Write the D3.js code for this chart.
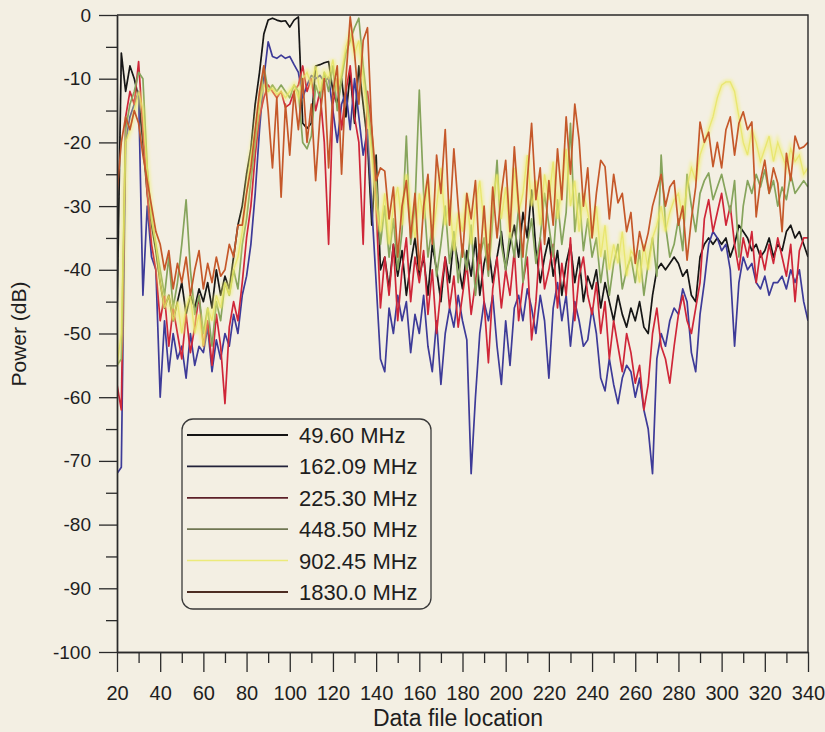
<!DOCTYPE html>
<html>
<head>
<meta charset="utf-8">
<script src="https://cdn.jsdelivr.net/npm/d3@7/dist/d3.min.js"></script>
<style>
  html, body { margin: 0; padding: 0; background: #f3efe3; }
  svg { display: block; font-family: Arial, "Liberation Sans", Helvetica, sans-serif; }
</style>
</head>
<body>
<svg id="chart" width="825" height="732"></svg>
<script>
//data file locations, one reading every 2
var xLocations = d3.range(20, 341, 2);

var xTicks = [20, 40, 60, 80, 100, 120, 140, 160, 180, 200, 220, 240, 260, 280, 300, 320, 340];
var yTicks = [0, -10, -20, -30, -40, -50, -60, -70, -80, -90, -100];

var seriesNames = ['49.60 MHz', '162.09 MHz', '225.30 MHz', '448.50 MHz', '902.45 MHz', '1830.0 MHz'];

//49.60 MHz
var power49 = [
  -48, -6, -12, -8, -10, -13, -20, -28, -33, -37,
  -42, -46, -44, -48, -45, -42, -47, -44, -46, -43,
  -45, -42, -46, -40, -44, -41, -43, -38, -33, -30,
  -25, -21, -14, -9, -3, -0.8, -0.5, -0.8, -1, -0.9,
  -1.9, -0.8, -0.3, -17, -17.8, -17, -8, -7.8, -7.5, -7.3,
  -12, -14, -10, -16, -9, -17, -8, -14, -20, -33,
  -22, -40, -38, -43, -36, -41, -37, -44, -39, -35,
  -41, -38, -44, -36, -40, -45, -38, -42, -35, -39,
  -43, -37, -41, -35, -44, -39, -36, -42, -38, -34,
  -40, -36, -33, -38, -31, -35, -27.5, -37, -42, -38,
  -35, -41, -37, -44, -39, -36, -42, -38, -45, -41,
  -43, -40, -46, -42, -45, -48, -44, -47, -49, -46,
  -48, -45, -49, -50, -44, -40, -39, -40, -39, -38,
  -39, -41, -40, -44, -45, -38, -36, -35, -36, -35,
  -36, -35, -38, -36, -33, -34, -35, -37, -36, -38,
  -37, -35, -38, -36, -37, -34, -33, -35, -34, -36,
  -38
];

//162.09 MHz
var power162 = [
  -72, -71, -20, -16, -14, -12, -44, -30, -38, -40,
  -60, -48, -56, -50, -54, -52, -57, -50, -55, -52,
  -53, -49, -56, -51, -54, -50, -52, -47, -50, -44,
  -41, -36, -28, -18, -10, -4.2, -6.5, -6.8, -6.3, -6.8,
  -6.5, -7.8, -9, -13, -11, -9.5, -10, -9.5, -10.5, -9.8,
  -15, -20, -14, -12, -18, -10, -16, -22, -18, -30,
  -42, -54, -56, -46, -50, -44, -48, -45, -53, -47,
  -50, -44, -52, -56, -48, -58, -50, -46, -49, -44,
  -48, -51, -72, -60, -50, -45, -48, -44, -52, -58,
  -48, -55, -46, -44, -48, -43, -46, -50, -44, -48,
  -57, -46, -42, -48, -44, -52, -45, -48, -52, -51,
  -46, -50, -57, -59, -54, -58, -61, -57, -55, -56,
  -60, -57, -62, -65, -72, -54, -50, -52, -48, -46,
  -47, -43, -45, -53, -56, -47, -42, -36, -34, -35,
  -37, -36, -40, -52, -42, -38, -40, -39, -42, -43,
  -41, -44, -42, -42, -41, -43, -40, -42, -40, -45,
  -48
];

//225.30 MHz
var power225 = [
  -58, -62, -16, -12, -14, -7.3, -18, -28, -36, -40,
  -48, -44, -52, -46, -50, -54, -47, -53, -49, -44,
  -52, -48, -55, -47, -52, -61, -49, -45, -48, -42,
  -35, -30, -22, -16, -13, -11, -12, -13, -12, -14.5,
  -14, -12, -11, -8, -12, -10, -15, -12, -20, -36,
  -14, -10, -18, -12, -8, -16, -20, -36, -12, -18,
  -30, -46, -38, -44, -36, -48, -40, -35, -45, -38,
  -42, -37, -47, -40, -50, -43, -38, -46, -41, -49,
  -44, -39, -47, -42, -36, -45, -54.6, -43, -38, -46,
  -40, -44, -37, -48, -42, -38, -51, -45, -35, -43,
  -40, -36, -46, -39, -44, -35, -48, -41, -38, -44,
  -47, -42, -50, -45, -54, -48, -52, -56, -50, -53,
  -57.8, -55, -62, -58, -50, -46, -52, -54, -57.8, -52,
  -47, -44, -48, -50, -46, -42, -32, -29, -34, -31,
  -28, -33, -30, -36, -40, -35, -38, -34, -42, -37,
  -40, -36, -39, -35, -38, -41, -36, -45, -37, -35,
  -35
];

//448.50 MHz
var power448 = [
  -55, -54, -18, -14, -12, -9, -10, -24, -32, -36,
  -40, -44, -38, -46, -42, -36, -29, -40, -47, -44,
  -50, -46, -52, -45, -48, -42, -44, -40, -43, -36,
  -32, -26, -20, -14, -8, -12, -11, -12, -11, -12,
  -13, -11, -12, -20, -21, -19, -11, -13, -9, -12,
  -8, -15, -10, -6, -4, -2, -0.5, -8, -14, -20,
  -26, -36, -30, -38, -32, -40, -34, -19, -36, -30,
  -11.8, -28, -38, -33, -41, -36, -30, -39, -34, -42,
  -36, -40, -33, -44, -38, -35, -41, -32, -22.8, -36,
  -40, -34, -38, -30, -42, -36, -32, -39, -35, -28,
  -33, -38, -29, -36, -31, -17, -34, -28, -37, -32,
  -38, -35, -42, -37, -44, -39, -36, -43, -40, -38,
  -42, -37, -44, -39, -35, -41, -22, -33, -38, -36,
  -32, -37, -25, -30, -34, -28, -26, -24.8, -29, -27,
  -25, -28, -31, -26, -38, -30, -26, -28, -25, -27,
  -24.3, -28, -26, -30, -27, -29, -25, -28, -27, -26,
  -27
];

//902.45 MHz
var power902 = [
  -55, -50, -20, -18, -15, -12, -15, -24, -32, -36,
  -42, -46, -44, -48, -45, -50, -46, -44, -50, -47,
  -52, -46, -48, -44, -46, -42, -44, -40, -38, -34,
  -28, -22, -18, -14, -11, -12, -11.5, -12.5, -12, -13,
  -12, -11, -13, -10, -9, -11, -8, -12, -9, -10,
  -7, -12, -9, -5, -3, -6, -4, -10, -16, -22,
  -30, -34, -28, -36, -30, -27, -33, -25, -31, -35,
  -28, -32, -26, -35, -30, -24, -33, -29, -37, -31,
  -34, -28, -36, -30, -26, -33, -38, -29, -25, -32,
  -27, -35, -24, -31, -28, -22, -30, -26, -33, -25,
  -29, -23, -32, -27, -21, -30, -26, -34, -28, -31,
  -35, -30, -38, -33, -40, -36, -39, -34, -41, -37,
  -38, -42, -36, -40, -35, -33, -30, -34, -31, -29,
  -28, -32, -27, -24, -26, -22, -20, -18, -16, -13,
  -11, -10.5, -10.5, -12, -16, -20, -22, -18, -20, -23,
  -21, -19, -23, -20, -22, -24, -21, -23, -22, -25,
  -24
];

//1830.0 MHz
var power1830 = [
  -28, -20, -16, -18, -15, -17, -22, -26, -30, -34,
  -36, -40, -37, -43, -39, -42, -38, -44, -40, -37,
  -43, -39, -42, -38, -41, -40, -36, -38, -33, -33,
  -28, -24, -18, -12, -8, -15, -24, -13, -28.6, -14,
  -22, -12, -18, -10, -20, -14, -26, -16, -10, -24,
  -12, -8, -25, -10, -0.3, -6, -14, -4, -2, -18,
  -26, -24, -24.5, -32, -27, -38, -30, -26, -35, -28,
  -40, -30, -25, -36, -22, -28, -18, -33, -21, -30,
  -38, -28, -32, -26, -39, -30, -40, -27, -35, -28,
  -22.8, -34, -20.7, -30, -38, -26, -17, -29, -24, -36,
  -26, -33, -21, -29, -16, -25, -14, -19.6, -30, -24,
  -35, -28, -22.8, -23.8, -32, -25, -29.5, -28, -34, -31,
  -39, -34, -37, -34.2, -30, -27.5, -25, -30, -27, -26,
  -33, -30, -38.5, -32, -27, -16.8, -20, -18.4, -23.8, -20,
  -24, -18, -16, -22, -17, -15.2, -18, -16.8, -31.7, -26,
  -22.8, -28, -24, -26.4, -34, -21.7, -26, -19, -21, -20.7,
  -20
];

var lineColors = ['#141414', '#3d3a98', '#cf2638', '#86a45c', '#ecea6a', '#c5582a'];
var keyColors = ['#141414', '#22223a', '#5c2028', '#6f7652', '#ecea7a', '#4c2c22'];

var series = [power49, power162, power225, power448, power902, power1830].map(function (vals, i) {
    return {
        name: seriesNames[i],
        color: lineColors[i],
        key: keyColors[i],
        glow: i === 4,
        points: vals.map(function (v, j) { return [xLocations[j], v]; })
    };
});

var svg = d3.select('#chart');
var M = {left: 117, right: 808, top: 15, bottom: 652};

var x = d3.scaleLinear().domain([20, 340]).range([M.left, M.right]);
var y = d3.scaleLinear().domain([-100, 0]).range([M.bottom, M.top]);

svg.append('rect').attr('width', 825).attr('height', 732).attr('fill', '#f3efe3');

var defs = svg.append('defs');
defs.append('filter').attr('id', 'glow').attr('x', '-5%').attr('y', '-5%').attr('width', '110%').attr('height', '110%')
    .append('feGaussianBlur').attr('stdDeviation', 1.4);
defs.append('filter').attr('id', 'soft')
    .append('feGaussianBlur').attr('stdDeviation', 0.35);
defs.append('clipPath').attr('id', 'plot-clip')
    .append('rect').attr('x', M.left).attr('y', M.top - 2)
    .attr('width', M.right - M.left).attr('height', M.bottom - M.top + 2);

//lines
var line = d3.line().x(function (d) { return x(d[0]); }).y(function (d) { return y(d[1]); });
var gLines = svg.append('g').attr('clip-path', 'url(#plot-clip)');

series.forEach(function (s) {
    if (s.glow) {
        gLines.append('path').attr('d', line(s.points))
            .attr('fill', 'none').attr('stroke', '#f0ee70').attr('stroke-width', 5)
            .attr('stroke-opacity', 0.55).attr('filter', 'url(#glow)');
        gLines.append('path').attr('d', line(s.points))
            .attr('fill', 'none').attr('stroke', '#e6e35c').attr('stroke-width', 1.3)
            .attr('stroke-opacity', 0.75);
    } else {
        gLines.append('path').attr('d', line(s.points))
            .attr('fill', 'none').attr('stroke', s.color).attr('stroke-width', 1.7)
            .attr('stroke-linejoin', 'round').attr('filter', 'url(#soft)');
    }
});

//axes
var axisColor = '#2a2a2a';
var xMinor = d3.range(30, 340, 20);
var yMinor = d3.range(-95, 0, 10);

var gx = svg.append('g').attr('transform', 'translate(0,' + M.bottom + ')')
    .call(d3.axisBottom(x).tickValues(xTicks).tickSize(20).tickSizeOuter(0).tickPadding(14));
var gxm = svg.append('g').attr('transform', 'translate(0,' + M.bottom + ')')
    .call(d3.axisBottom(x).tickValues(xMinor).tickSize(11).tickSizeOuter(0).tickFormat(''));
var gy = svg.append('g').attr('transform', 'translate(' + M.left + ',0)')
    .call(d3.axisLeft(y).tickValues(yTicks).tickSize(18).tickSizeOuter(0).tickPadding(8)
        .tickFormat(function (d) { return String(d); }));
var gym = svg.append('g').attr('transform', 'translate(' + M.left + ',0)')
    .call(d3.axisLeft(y).tickValues(yMinor).tickSize(11).tickSizeOuter(0).tickFormat(''));

[gx, gxm, gy, gym].forEach(function (g) {
    g.selectAll('path').attr('stroke', axisColor).attr('stroke-width', 1.4);
    g.selectAll('line').attr('stroke', axisColor).attr('stroke-width', 1.3);
});
gx.selectAll('text').attr('font-size', 20).attr('fill', '#1e1e1e').attr('font-family', null);
gy.selectAll('text').attr('font-size', 19).attr('fill', '#1e1e1e').attr('font-family', null);

//frame on top and right
svg.append('path')
    .attr('d', 'M' + M.left + ',' + M.top + 'H' + M.right + 'V' + M.bottom)
    .attr('fill', 'none').attr('stroke', axisColor).attr('stroke-width', 1.4);

//axis titles
svg.append('text').attr('x', 458).attr('y', 726).attr('text-anchor', 'middle')
    .attr('font-size', 23).attr('fill', '#1e1e1e').text('Data file location');
svg.append('text').attr('transform', 'translate(26,334) rotate(-90)').attr('text-anchor', 'middle')
    .attr('font-size', 21).attr('fill', '#1e1e1e').text('Power (dB)');

//legend
var legend = svg.append('g').attr('transform', 'translate(182,419)');
legend.append('rect').attr('width', 249).attr('height', 190).attr('rx', 11).attr('ry', 11)
    .attr('fill', '#f3efe3').attr('stroke', '#3a3a3a').attr('stroke-width', 1.3);

var rowY = d3.scaleLinear().domain([0, 5]).range([16, 173]);
series.forEach(function (s, i) {
    var row = legend.append('g').attr('transform', 'translate(0,' + rowY(i) + ')');
    if (s.glow) {
        row.append('line').attr('x1', 5).attr('x2', 106)
            .attr('stroke', '#f0ee70').attr('stroke-width', 5).attr('stroke-opacity', 0.6)
            .attr('filter', 'url(#glow)');
    }
    row.append('line').attr('x1', 5).attr('x2', 106)
        .attr('stroke', s.key).attr('stroke-width', s.glow ? 1.5 : 1.8);
    row.append('text').attr('x', 117).attr('y', 8).attr('font-size', 22)
        .attr('fill', '#1e1e1e').text(s.name);
});
</script>
</body>
</html>
